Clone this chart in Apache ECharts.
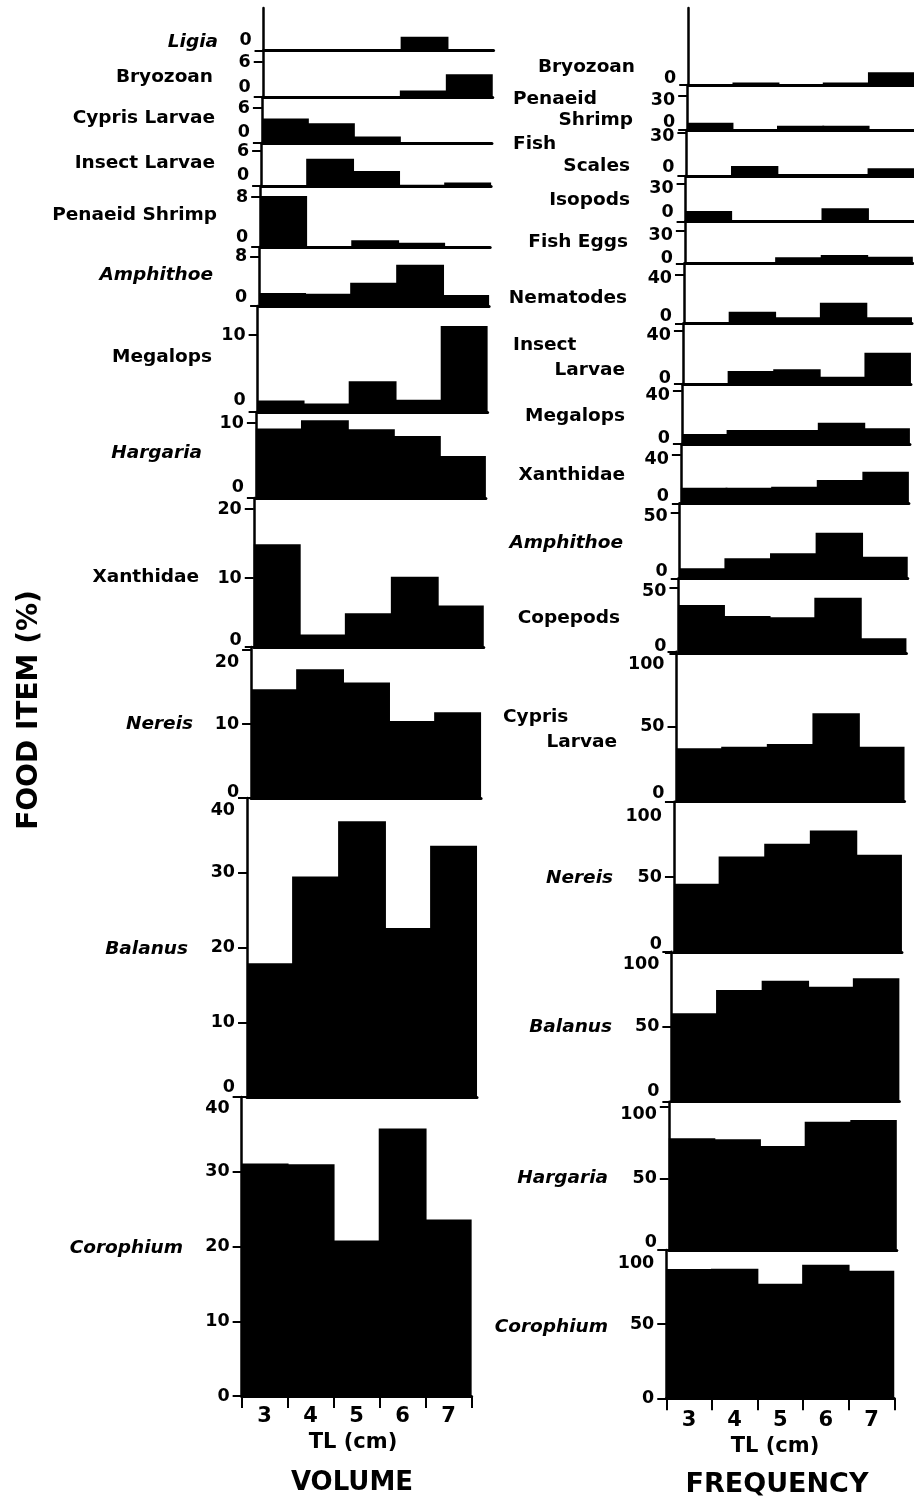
<!DOCTYPE html>
<html><head><meta charset="utf-8">
<script src="https://cdn.jsdelivr.net/npm/echarts@6/dist/echarts.min.js"></script>
<style>html,body{margin:0;padding:0;background:#fff}#c{width:914px;height:1501px}</style>
</head><body><div id="c"></div>
<script>
// ---------------- DATA ----------------
const tlCategories = ['3', '4', '5', '6', '7'];

// VOLUME (%)
const volumeItems = ['Ligia', 'Bryozoan', 'Cypris Larvae', 'Insect Larvae', 'Penaeid Shrimp', 'Amphithoe',
  'Megalops', 'Hargaria', 'Xanthidae', 'Nereis', 'Balanus', 'Corophium'];
const volumeItalic = [true, false, false, false, false, true, false, true, false, true, true, true];
const volLigia        = [0, 0, 0, 2.4, 0];
const volBryozoan     = [0, 0, 0, 1.1, 3.9];
const volCyprisLarvae = [4.2, 3.4, 1.1, 0, 0];
const volInsectLarvae = [0, 4.7, 2.6, 0.2, 0.6];
const volPenaeid      = [8.2, 0, 1.1, 0.7, 0];
const volAmphithoe    = [2.1, 2.0, 3.8, 6.7, 1.8];
const volMegalops     = [1.5, 1.1, 4.0, 1.6, 11.2];
const volHargaria     = [9.3, 10.4, 9.2, 8.3, 5.6];
const volXanthidae    = [14.9, 1.8, 4.9, 10.2, 6.0];
const volNereis       = [14.7, 17.4, 15.6, 10.4, 11.6];
const volBalanus      = [17.9, 29.5, 36.9, 22.6, 33.6];
const volCorophium    = [31.1, 31.0, 20.8, 35.8, 23.6];
const volTickLabels = [[0], [0, 6], [0, 6], [0, 6], [0, 8], [0, 8], [0, 10], [0, 10],
  [0, 10, 20], [0, 10, 20], [0, 10, 20, 30, 40], [0, 10, 20, 30, 40]];

// FREQUENCY (%)
const freqItems = ['Bryozoan', 'Penaeid\nShrimp', 'Fish\nScales', 'Isopods', 'Fish Eggs', 'Nematodes',
  'Insect\nLarvae', 'Megalops', 'Xanthidae', 'Amphithoe', 'Copepods', 'Cypris\nLarvae',
  'Nereis', 'Balanus', 'Hargaria', 'Corophium'];
const freqItalic = [false, false, false, false, false, false, false, false, false, true, false, false,
  true, true, true, true];
const frqBryozoan     = [0, 2, 0.8, 2, 10.5];
const frqPenaeid      = [6.4, 0.8, 3.8, 3.8, 0];
const frqFishScales   = [0, 6.9, 1.4, 1.4, 5.3];
const frqIsopods      = [8.6, 1.2, 1.2, 10.7, 0.4];
const frqFishEggs     = [0.5, 0.5, 5.6, 7.7, 6.1];
const frqNematodes    = [0, 9.5, 4.9, 16.8, 4.9];
const frqInsectLarvae = [0, 9.8, 11.1, 5.5, 23.6];
const frqMegalops     = [7.5, 10.6, 10.6, 16.1, 11.8];
const frqXanthidae    = [12.9, 12.9, 13.7, 19.3, 26.2];
const frqAmphithoe    = [7.6, 15.2, 19.1, 34.8, 16.5];
const frqCopepods     = [36.8, 28.4, 27.4, 42.4, 11.4];
const frqCyprisLarvae = [35.6, 36.7, 38.5, 58.9, 36.7];
const frqNereis       = [45.6, 63.7, 72.1, 80.9, 64.8];
const frqBalanus      = [58.9, 74.5, 80.7, 76.7, 82.3];
const frqHargaria     = [77.9, 77.2, 72.5, 89.5, 90.7];
const frqCorophium    = [87.2, 87.4, 77.2, 90.1, 86.0];
const freqTickLabels = [[0], [0, 30], [0, 30], [0, 30], [0, 30], [0, 40], [0, 40], [0, 40], [0, 40],
  [0, 50], [0, 50], [0, 50, 100], [0, 50, 100], [0, 50, 100], [0, 50, 100], [0, 50, 100]];

const volValues = [volLigia, volBryozoan, volCyprisLarvae, volInsectLarvae, volPenaeid, volAmphithoe,
  volMegalops, volHargaria, volXanthidae, volNereis, volBalanus, volCorophium];
const freqValues = [frqBryozoan, frqPenaeid, frqFishScales, frqIsopods, frqFishEggs, frqNematodes,
  frqInsectLarvae, frqMegalops, frqXanthidae, frqAmphithoe, frqCopepods, frqCyprisLarvae,
  frqNereis, frqBalanus, frqHargaria, frqCorophium];

// ---------------- LAYOUT ----------------
const volLayout = [
  {top: 8, base: 50.7, max: 7.3, z: -10, t: 0, nx: 218, ny: 41.7},
  {top: 50.7, base: 97, max: 7.94, z: -10, t: 0, nx: 213, ny: 76.7},
  {top: 97, base: 143, max: 7.9, z: -11, t: 0, nx: 215, ny: 118.3},
  {top: 143, base: 186, max: 7.4, z: -11, t: 0, nx: 215, ny: 163.3},
  {top: 186, base: 247, max: 9.8, z: -10, t: 0, nx: 217, ny: 215},
  {top: 247, base: 306, max: 9.6, z: -9, t: 0, nx: 213, ny: 275},
  {top: 306, base: 412, max: 13.8, z: -12, t: 0, nx: 212, ny: 356.7},
  {top: 412, base: 498, max: 11.5, z: -11, t: 0, nx: 202, ny: 453.3},
  {top: 498, base: 647, max: 21.6, z: -7, t: 0, nx: 199, ny: 576.7},
  {top: 647, base: 798, max: 20.4, z: -6, t: 12, nx: 193, ny: 724},
  {top: 798, base: 1097, max: 40, z: -10, t: 12, nx: 188, ny: 949.3},
  {top: 1097, base: 1396, max: 40, z: 0, t: 11, nx: 183, ny: 1248.3}
];
const freqLayout = [
  {top: 8, base: 85, max: 64, z: -7, t: 0, n: [[635, 66.7]]},
  {top: 85, base: 130, max: 39.7, z: -8, t: 4, n: [[513, 99.3], [633, 120]]},
  {top: 130, base: 176, max: 31.9, z: -9, t: 4, n: [[513, 144], [630, 166]]},
  {top: 176, base: 221.7, max: 36.6, z: -9, t: 4, n: [[630, 200]]},
  {top: 221.7, base: 263.3, max: 38.6, z: -5, t: 4, n: [[628, 241.7]]},
  {top: 263.3, base: 323.3, max: 49, z: -7, t: 4, n: [[627, 298.3]]},
  {top: 323.3, base: 384, max: 45.8, z: -6, t: 4, n: [[513, 345], [625, 370]]},
  {top: 384, base: 444, max: 45.3, z: -6, t: 4, n: [[625, 416]]},
  {top: 444, base: 503.3, max: 49.1, z: -7, t: 4, n: [[625, 475]]},
  {top: 503.3, base: 578.3, max: 57.2, z: -7, t: 4, n: [[623, 543.3]]},
  {top: 578.3, base: 653.3, max: 57.2, z: -7, t: 4, n: [[620, 618.3]]},
  {top: 651.7, base: 801.7, max: 100, z: -8, t: 13, n: [[503, 716.7], [617, 741.7]]},
  {top: 801.7, base: 952.7, max: 100, z: -8, t: 15, n: [[613, 878.3]]},
  {top: 951.7, base: 1101.7, max: 100, z: -10, t: 13, n: [[612, 1027.3]]},
  {top: 1101.7, base: 1250, max: 103.4, z: -8, t: 8, n: [[608, 1178.3]]},
  {top: 1250, base: 1398.3, max: 100, z: 0, t: 13, n: [[608, 1326.7]]}
];

const FONT = '"DejaVu Sans", "Liberation Sans", sans-serif';
const NAME_SIZE = 18.5, TICK_SIZE = 17.5;
const grids = [], xAxes = [], yAxes = [], series = [], graphics = [];

function addPanel(lay, values, ticks, leftPx, widthPx, isBottom, labelGap) {
  const idx = grids.length;
  grids.push({left: leftPx, top: lay.top, width: widthPx, height: lay.base - lay.top, containLabel: false});
  const topVal = ticks[ticks.length - 1];
  xAxes.push({
    type: 'category', gridIndex: idx, data: tlCategories, boundaryGap: true,
    axisLine: {show: true, lineStyle: {color: '#000', width: 3}},
    axisTick: {show: isBottom, length: 12, lineStyle: {color: '#000', width: 2}},
    axisLabel: {show: isBottom, color: '#000', fontFamily: FONT, fontWeight: 'bold', fontSize: 21, margin: labelGap},
    splitLine: {show: false}
  });
  const fs = TICK_SIZE;
  yAxes.push({
    type: 'value', gridIndex: idx, min: 0, max: lay.max,
    axisLine: {show: true, lineStyle: {color: '#000', width: 2.5}},
    axisTick: {show: true, customValues: ticks, length: 9, lineStyle: {color: '#000', width: 2}},
    axisLabel: {
      show: true, customValues: ticks, margin: 12, color: '#000',
      formatter: function (v) {
        if (v === 0) return '{z|0}';
        if (v === topVal) return '{t|' + v + '}';
        return '{m|' + v + '}';
      },
      rich: {
        z: {fontFamily: FONT, fontWeight: 'bold', fontSize: fs, color: '#000', padding: [0, 0, Math.max(0, -2 * lay.z), 0]},
        t: {fontFamily: FONT, fontWeight: 'bold', fontSize: fs, color: '#000', padding: [Math.max(0, 2 * lay.t), 0, 0, 0]},
        m: {fontFamily: FONT, fontWeight: 'bold', fontSize: fs, color: '#000'}
      }
    },
    splitLine: {show: false}
  });
  series.push({
    type: 'bar', xAxisIndex: idx, yAxisIndex: idx, data: values,
    barWidth: '104%', itemStyle: {color: '#000', borderWidth: 0},
    silent: true, animation: false
  });
}

function nameText(text, x, y, italic, align) {
  graphics.push({
    type: 'text', x: x, y: y, silent: true,
    style: {text: text, fill: '#000', fontFamily: FONT, fontWeight: 'bold', fontStyle: italic ? 'italic' : 'normal',
      fontSize: NAME_SIZE, align: align || 'right', verticalAlign: 'middle'}
  });
}

volLayout.forEach(function (lay, i) {
  const mid = (lay.top + lay.base) / 2;
  const left = 263 - 0.018 * (mid - 60);
  addPanel(lay, volValues[i], volTickLabels[i], left, 230, i === volLayout.length - 1, 10);
  nameText(volumeItems[i], lay.nx, lay.ny, volumeItalic[i], 'right');
});
freqLayout.forEach(function (lay, i) {
  const mid = (lay.top + lay.base) / 2;
  const left = 688 - 0.0172 * (mid - 60);
  addPanel(lay, freqValues[i], freqTickLabels[i], left, 228, i === freqLayout.length - 1, 12);
  const lines = freqItems[i].split('\n');
  if (lines.length === 1) {
    nameText(lines[0], lay.n[0][0], lay.n[0][1], freqItalic[i], 'right');
  } else {
    nameText(lines[0], lay.n[0][0], lay.n[0][1], freqItalic[i], 'left');
    nameText(lines[1], lay.n[1][0], lay.n[1][1], freqItalic[i], 'right');
  }
});

function bigText(text, x, y, size, rot) {
  graphics.push({
    type: 'text', x: x, y: y, rotation: rot || 0, silent: true,
    style: {text: text, fill: '#000', fontFamily: FONT, fontWeight: 'bold', fontSize: size, align: 'center', verticalAlign: 'middle'}
  });
}
bigText('TL (cm)', 353, 1443, 21);
bigText('VOLUME', 352, 1483, 26);
bigText('TL (cm)', 775, 1447, 21);
bigText('FREQUENCY', 777, 1485, 27);
bigText('FOOD ITEM (%)', 30, 710, 28, Math.PI / 2);

const chart = echarts.init(document.getElementById('c'), null, {renderer: 'canvas'});
chart.setOption({
  backgroundColor: '#fff',
  animation: false,
  grid: grids, xAxis: xAxes, yAxis: yAxes, series: series,
  graphic: {elements: graphics}
});
</script>
</body></html>
